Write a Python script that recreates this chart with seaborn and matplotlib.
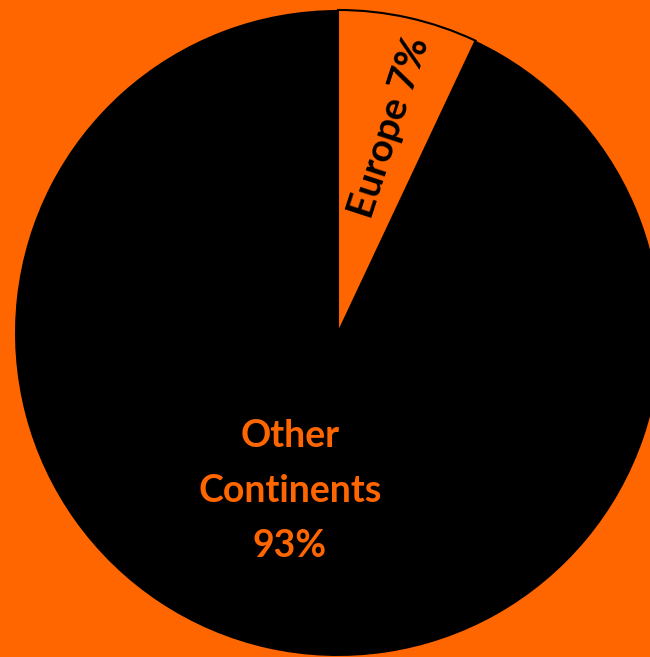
import matplotlib
matplotlib.use('Agg')
import matplotlib.pyplot as plt
import seaborn as sns

labels = ['Europe', 'Other Continents']
shares = [7, 93]

orange = '#FF6600'

sns.set_style('white')
plt.rcParams['font.family'] = ['Lato', 'DejaVu Sans']

fig = plt.figure(figsize=(6.5, 6.57), dpi=100, facecolor=orange)
ax = fig.add_axes([0, 0, 1, 1])
ax.set_facecolor(orange)

wedges, _ = ax.pie(
  shares,
  colors=[orange, 'black'],
  startangle=90,
  counterclock=False,
  explode=[0.02, 0],
  center=(338, 324),
  radius=323,
  frame=True,
  wedgeprops={'edgecolor': 'none', 'linewidth': 0}
)
wedges[0].set_edgecolor('black')
wedges[0].set_linewidth(1.5)

ax.set_xlim(0, 650)
ax.set_ylim(0, 657)
ax.set_aspect('equal')
ax.axis('off')

ax.text(389, 530, 'Europe %d%%' % shares[0], rotation=72, ha='center', va='center',
        fontsize=28, fontweight='bold', color='black')
ax.text(290, 166, 'Other\nContinents\n%d%%' % shares[1], ha='center', va='center',
        fontsize=27, fontweight='bold', color=orange, linespacing=1.75)

fig.savefig('out.png', facecolor=orange)
